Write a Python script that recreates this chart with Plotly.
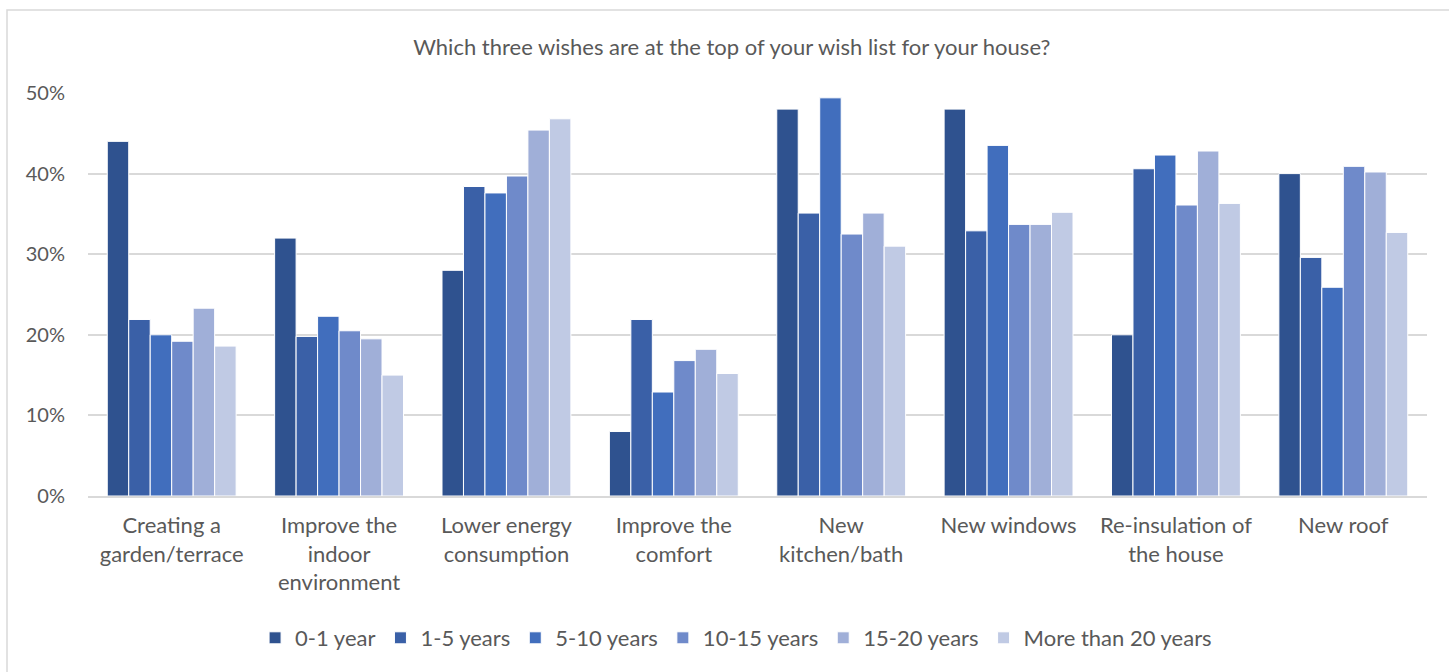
import plotly.graph_objects as go

categories = [
    "Creating a<br>garden/terrace",
    "Improve the<br>indoor<br>environment",
    "Lower energy<br>consumption",
    "Improve the<br>comfort",
    "New<br>kitchen/bath",
    "New windows",
    "Re-insulation of<br>the house",
    "New roof",
]

series_names = ["0-1 year", "1-5 years", "5-10 years", "10-15 years", "15-20 years", "More than 20 years"]

# Share of respondents (%) per wish, by years of home ownership
s_0_1 = [44.0, 32.0, 28.0, 8.0, 48.0, 48.0, 20.0, 40.0]
s_1_5 = [21.9, 19.8, 38.4, 21.9, 35.1, 32.9, 40.6, 29.6]
s_5_10 = [20.0, 22.3, 37.6, 12.9, 49.4, 43.5, 42.3, 25.9]
s_10_15 = [19.2, 20.5, 39.7, 16.8, 32.5, 33.7, 36.1, 40.9]
s_15_20 = [23.3, 19.5, 45.4, 18.2, 35.1, 33.7, 42.8, 40.2]
s_20_plus = [18.6, 15.0, 46.8, 15.2, 31.0, 35.2, 36.3, 32.7]

series_values = [s_0_1, s_1_5, s_5_10, s_10_15, s_15_20, s_20_plus]
colors = ["#2F528F", "#3A60A7", "#416EBD", "#6F8ACA", "#A0AFD8", "#C0CAE4"]

y_ticks = [0, 10, 20, 30, 40, 50]
y_tick_text = ["0%", "10%", "20%", "30%", "40%", "50%"]

FONT = "Lato"
TEXT = "#595959"

fig = go.Figure()
for name, vals, col in zip(series_names, series_values, colors):
    fig.add_trace(go.Bar(
        x=categories, y=vals, name=name,
        marker=dict(color=col, line=dict(color="#FFFFFF", width=1)),
    ))

fig.update_layout(
    width=1449, height=672,
    margin=dict(l=88, r=22, t=93, b=176, autoexpand=False),
    paper_bgcolor="#FFFFFF", plot_bgcolor="#FFFFFF",
    barmode="group", bargap=0.23, bargroupgap=0,
    font=dict(family=FONT, color=TEXT, size=20),
    title=dict(
        text="Which three wishes are at the top of your wish list for your house?",
        x=0.505, xanchor="center", y=1 - 47 / 672, yanchor="middle",
        font=dict(family=FONT, size=22, color=TEXT),
    ),
    showlegend=True,
    legend=dict(
        orientation="h", x=0.484, xanchor="center", y=(496 - 638) / 403, yanchor="middle",
        font=dict(family=FONT, size=22, color=TEXT),
        itemwidth=30, tracegroupgap=0, traceorder="normal",
    ),
    xaxis=dict(
        showgrid=False, showline=True, linecolor="#D9D9D9", linewidth=1.5,
        ticks="", ticklabelstandoff=9,
        tickfont=dict(family=FONT, size=22, color=TEXT), fixedrange=True,
    ),
    yaxis=dict(
        range=[0, 50], tickvals=y_ticks, ticktext=y_tick_text,
        showgrid=True, gridcolor="#D9D9D9", gridwidth=1.5, zeroline=False,
        showline=False, ticks="", ticklabelstandoff=22,
        tickfont=dict(family=FONT, size=20, color=TEXT),
    ),
    shapes=[
        dict(type="rect", xref="paper", yref="paper",
             x0=(7 - 88) / 1339, x1=1.2, y0=-1.0, y1=(496 - 10) / 403,
             line=dict(color="#D9D9D9", width=1.5), fillcolor="rgba(0,0,0,0)", layer="below"),
    ],
)

fig.write_html("out.html")
